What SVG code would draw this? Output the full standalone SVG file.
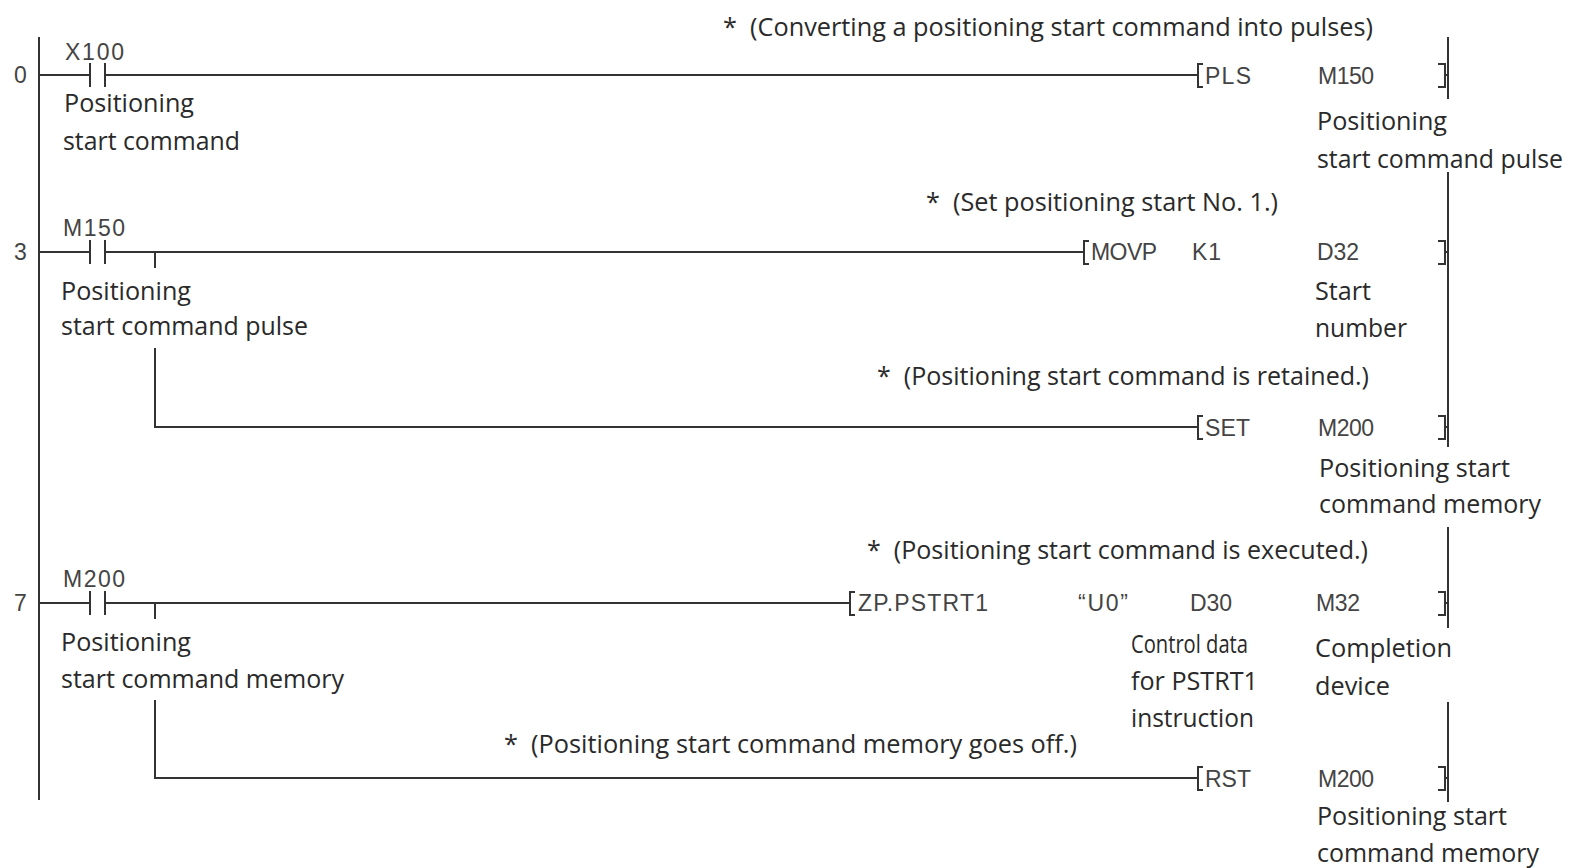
<svg xmlns="http://www.w3.org/2000/svg" width="1571" height="868" viewBox="0 0 1571 868">
<style>
.l{font-family:"Open Sans","Noto Sans",sans-serif;font-size:25.5px;fill:#2a2a2a;white-space:pre}
.d{font-family:"Liberation Sans",Arial,sans-serif;font-size:23px;fill:#444}
.w{fill:none;stroke:#333;stroke-width:2}
</style>
<rect width="1571" height="868" fill="#fff"/>
<g id="connectors">
<path class="w" d="M39 37V800"/>
<path class="w" d="M1448 37V99M1448 172V447M1448 527V628M1448 702V802"/>
<path class="w" d="M39 75H90M105 75H1195"/>
<path class="w" d="M39 252H90M105 252H1081M155 252V268M155 348V427H1195"/>
<path class="w" d="M39 603H90M105 603H847M155 603V619M155 700V778H1195"/>
<path class="w" d="M90 63V87M105 63V87M90 240V264M105 240V264M90 591V615M105 591V615"/>
</g>
<g id="rung-0">
<text class="d" x="14" y="83" textLength="13">0</text>
<text class="d" x="65" y="60" textLength="59">X100</text>
<text class="l" x="64" y="112" textLength="130" lengthAdjust="spacingAndGlyphs">Positioning</text>
<text class="l" x="63" y="150" textLength="177" lengthAdjust="spacingAndGlyphs">start command</text>
<text class="l" x="723" y="36" textLength="650" lengthAdjust="spacingAndGlyphs">*  (Converting a positioning start command into pulses)</text>
</g>
<g id="pls">
<path class="w" d="M1203 64H1198V87H1203M1195 75H1198M1438 64H1445V87H1438M1445 75H1448"/>
<text class="d" x="1205" y="84" textLength="46">PLS</text>
<text class="d" x="1318" y="84" textLength="56">M150</text>
<text class="l" x="1317" y="130" textLength="130" lengthAdjust="spacingAndGlyphs">Positioning</text>
<text class="l" x="1317" y="168" textLength="246" lengthAdjust="spacingAndGlyphs">start command pulse</text>
</g>
<g id="rung-3">
<text class="d" x="14" y="260" textLength="13">3</text>
<text class="d" x="63" y="236" textLength="62">M150</text>
<text class="l" x="61" y="300" textLength="130" lengthAdjust="spacingAndGlyphs">Positioning</text>
<text class="l" x="61" y="335" textLength="247" lengthAdjust="spacingAndGlyphs">start command pulse</text>
</g>
<g id="movp">
<path class="w" d="M1089 241H1084V264H1089M1081 252H1084M1438 241H1445V264H1438M1445 252H1448"/>
<text class="l" x="926" y="211" textLength="352" lengthAdjust="spacingAndGlyphs">*  (Set positioning start No. 1.)</text>
<text class="d" x="1091" y="260" textLength="66">MOVP</text>
<text class="d" x="1192" y="260" textLength="29">K1</text>
<text class="d" x="1317" y="260" textLength="42">D32</text>
<text class="l" x="1315" y="300" textLength="56" lengthAdjust="spacingAndGlyphs">Start</text>
<text class="l" x="1315" y="337" textLength="92" lengthAdjust="spacingAndGlyphs">number</text>
</g>
<g id="set">
<path class="w" d="M1203 416H1198V439H1203M1195 427H1198M1438 416H1445V439H1438M1445 427H1448"/>
<text class="l" x="877" y="385" textLength="492" lengthAdjust="spacingAndGlyphs">*  (Positioning start command is retained.)</text>
<text class="d" x="1205" y="436" textLength="45">SET</text>
<text class="d" x="1318" y="436" textLength="56">M200</text>
<text class="l" x="1319" y="477" textLength="191" lengthAdjust="spacingAndGlyphs">Positioning start</text>
<text class="l" x="1319" y="513" textLength="222" lengthAdjust="spacingAndGlyphs">command memory</text>
</g>
<g id="rung-7">
<text class="d" x="14" y="611" textLength="13">7</text>
<text class="d" x="63" y="587" textLength="62">M200</text>
<text class="l" x="61" y="651" textLength="130" lengthAdjust="spacingAndGlyphs">Positioning</text>
<text class="l" x="61" y="688" textLength="283" lengthAdjust="spacingAndGlyphs">start command memory</text>
</g>
<g id="pstrt">
<path class="w" d="M855 592H850V615H855M847 603H850M1438 592H1445V615H1438M1445 603H1448"/>
<text class="l" x="867" y="559" textLength="501" lengthAdjust="spacingAndGlyphs">*  (Positioning start command is executed.)</text>
<text class="d" x="858" y="611" textLength="130">ZP.PSTRT1</text>
<text class="d" x="1078" y="611" textLength="50">“U0”</text>
<text class="d" x="1190" y="611" textLength="42">D30</text>
<text class="d" x="1316" y="611" textLength="44">M32</text>
<text class="l" x="1131" y="653" textLength="117" lengthAdjust="spacingAndGlyphs">Control data</text>
<text class="l" x="1131" y="690" textLength="127" lengthAdjust="spacingAndGlyphs">for PSTRT1</text>
<text class="l" x="1131" y="727" textLength="123" lengthAdjust="spacingAndGlyphs">instruction</text>
<text class="l" x="1315" y="657" textLength="137" lengthAdjust="spacingAndGlyphs">Completion</text>
<text class="l" x="1315" y="695" textLength="75" lengthAdjust="spacingAndGlyphs">device</text>
</g>
<g id="rst">
<path class="w" d="M1203 767H1198V790H1203M1195 778H1198M1438 767H1445V790H1438M1445 778H1448"/>
<text class="l" x="504" y="753" textLength="573" lengthAdjust="spacingAndGlyphs">*  (Positioning start command memory goes off.)</text>
<text class="d" x="1205" y="787" textLength="46">RST</text>
<text class="d" x="1318" y="787" textLength="56">M200</text>
<text class="l" x="1317" y="825" textLength="190" lengthAdjust="spacingAndGlyphs">Positioning start</text>
<text class="l" x="1317" y="862" textLength="222" lengthAdjust="spacingAndGlyphs">command memory</text>
</g>
</svg>
